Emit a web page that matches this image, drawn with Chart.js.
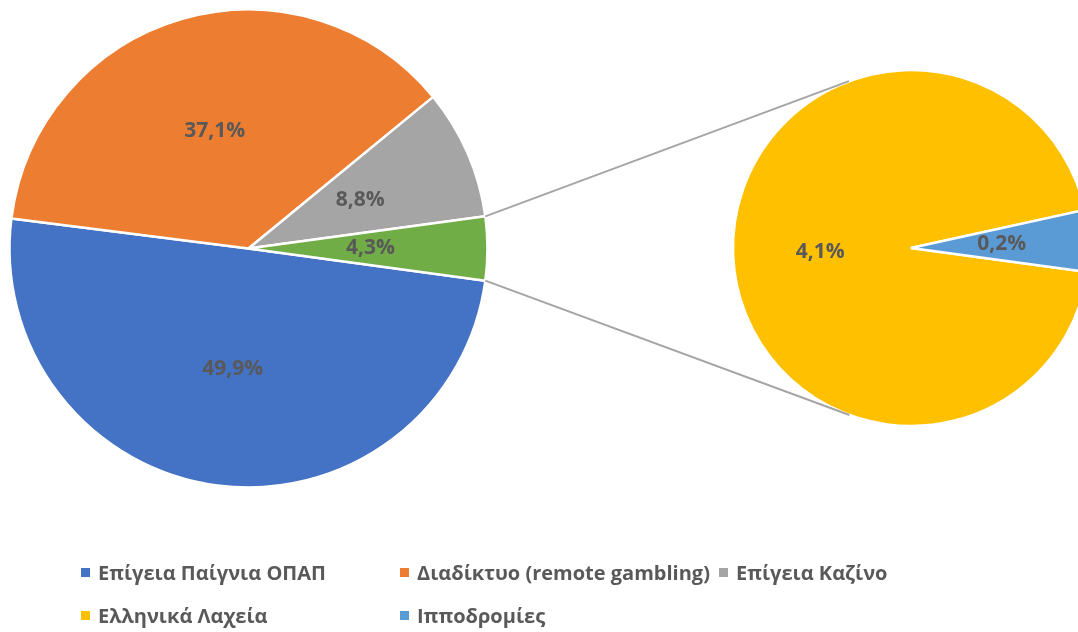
<!DOCTYPE html>
<html>
<head>
<meta charset="utf-8">
<script src="https://cdn.jsdelivr.net/npm/chart.js@4.4.1/dist/chart.umd.min.js"></script>
<style>
  html, body { margin: 0; padding: 0; background: #fff; }
  body { width: 1078px; height: 632px; position: relative; overflow: hidden; font-family: "Open Sans", "Noto Sans", sans-serif; }
  #mainBox { position: absolute; left: 0; top: 0; width: 497px; height: 497px; }
  #subBox { position: absolute; left: 721px; top: 58px; width: 380px; height: 380px; }
  #lines { position: absolute; left: 0; top: 0; pointer-events: none; }
  #legend { position: absolute; left: 81px; top: 551px; display: grid; grid-template-columns: 319px 319px 319px; grid-auto-rows: 43px; }
  .item { display: flex; align-items: center; white-space: nowrap; color: #595959; font-size: 20px; font-weight: bold; }
  .box { width: 9px; height: 9px; margin-right: 8px; flex: none; }
</style>
</head>
<body>
<div id="mainBox"><canvas id="mainChart"></canvas></div>
<div id="subBox"><canvas id="subChart"></canvas></div>
<canvas id="lines" width="1078" height="632"></canvas>
<div id="legend"></div>
<script>
// main pie
const mainLabels = ['Επίγεια Παίγνια ΟΠΑΠ', 'Διαδίκτυο (remote gambling)', 'Επίγεια Καζίνο', 'Λοιπά'];
const mainValues = [49.9, 37.1, 8.8, 4.3];
const mainColors = ['#4472C4', '#ED7D31', '#A5A5A5', '#70AD47'];

// breakdown of the small slice
const subLabels = ['Ελληνικά Λαχεία', 'Ιπποδρομίες'];
const subValues = [4.06, 0.24];
const subColors = ['#FFC000', '#5B9BD5'];

// legend order as in the picture
const legendLabels = ['Επίγεια Παίγνια ΟΠΑΠ', 'Διαδίκτυο (remote gambling)', 'Επίγεια Καζίνο', 'Ελληνικά Λαχεία', 'Ιπποδρομίες'];
const legendColors = ['#4472C4', '#ED7D31', '#A5A5A5', '#FFC000', '#5B9BD5'];

const mainTotal = mainValues.reduce((a, b) => a + b, 0);
// small slice centred on 3 o'clock
const startRotation = 90 + mainValues[3] / mainTotal * 180;

const fmt = v => v.toFixed(1).replace('.', ',') + '%';

const pieLabels = {
    id: 'pieLabels',
    afterDatasetsDraw(chart) {
        const ctx = chart.ctx;
        const ds = chart.data.datasets[0];
        ctx.save();
        ctx.font = 'bold 21px "Open Sans", "Noto Sans", sans-serif';
        ctx.fillStyle = '#595959';
        ctx.textAlign = 'center';
        ctx.textBaseline = 'middle';
        chart.getDatasetMeta(0).data.forEach((arc, i) => {
            const mid = (arc.startAngle + arc.endAngle) / 2;
            const r = arc.outerRadius * 0.51;
            ctx.fillText(fmt(ds.data[i]), arc.x + Math.cos(mid) * r, arc.y + Math.sin(mid) * r);
        });
        ctx.restore();
    }
};

const pieOptions = {
    responsive: true,
    maintainAspectRatio: false,
    animation: false,
    rotation: startRotation,
    layout: { padding: 0 },
    plugins: { legend: { display: false }, tooltip: { enabled: false } }
};

const mainChart = new Chart(document.getElementById('mainChart'), {
    type: 'pie',
    data: {
        labels: mainLabels,
        datasets: [{
            data: mainValues,
            backgroundColor: mainColors,
            borderColor: '#fff',
            borderWidth: 2.5
        }]
    },
    options: Object.assign({}, pieOptions, { radius: 239 }),
    plugins: [pieLabels]
});

function drawConnectors() {
    const cv = document.getElementById('lines');
    const ctx = cv.getContext('2d');
    ctx.clearRect(0, 0, cv.width, cv.height);
    const mb = document.getElementById('mainBox');
    const sb = document.getElementById('subBox');
    const g = mainChart.getDatasetMeta(0).data[3];
    const s = subChart.getDatasetMeta(0).data[0];
    const cx = sb.offsetLeft + s.x, cy = sb.offsetTop + s.y, R = s.outerRadius;
    const ends = [g.startAngle, g.endAngle].map(a => ({
        x: mb.offsetLeft + g.x + Math.cos(a) * g.outerRadius,
        y: mb.offsetTop + g.y + Math.sin(a) * g.outerRadius
    }));
    ctx.strokeStyle = '#A5A5A5';
    ctx.lineWidth = 2;
    ends.forEach((p, i) => {
        const d = Math.hypot(p.x - cx, p.y - cy);
        const phi = Math.atan2(p.y - cy, p.x - cx);
        const delta = Math.acos(R / d);
        const t = i === 0 ? phi + delta : phi - delta;
        ctx.beginPath();
        ctx.moveTo(p.x, p.y);
        ctx.lineTo(cx + Math.cos(t) * R, cy + Math.sin(t) * R);
        ctx.stroke();
    });
}

const subChart = new Chart(document.getElementById('subChart'), {
    type: 'pie',
    data: {
        labels: subLabels,
        datasets: [{
            data: subValues,
            backgroundColor: subColors,
            borderColor: '#fff',
            borderWidth: 2.5
        }]
    },
    options: Object.assign({}, pieOptions, { radius: 178 }),
    plugins: [pieLabels]
});

drawConnectors();

// legend in the same column grid as the original
const legend = document.getElementById('legend');
legendLabels.forEach((name, i) => {
    const item = document.createElement('div');
    item.className = 'item';
    const box = document.createElement('span');
    box.className = 'box';
    box.style.background = legendColors[i];
    item.appendChild(box);
    item.appendChild(document.createTextNode(name));
    legend.appendChild(item);
});
</script>
</body>
</html>
